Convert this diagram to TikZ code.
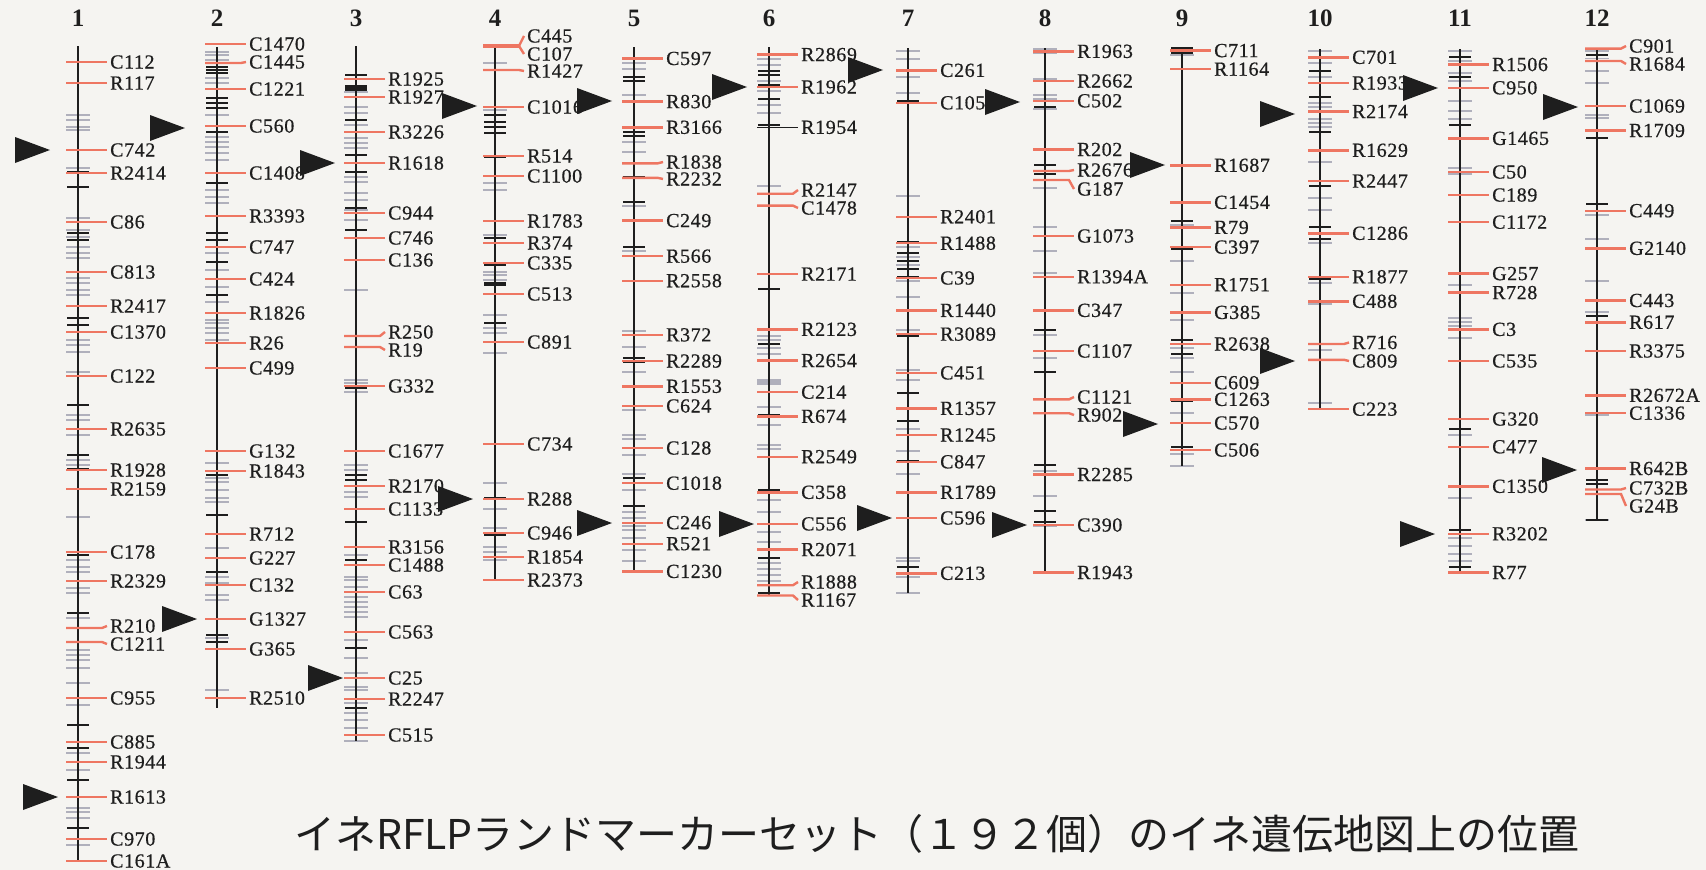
\documentclass[tikz,border=0pt]{standalone}
\usepackage{fontspec}
\setmainfont{Liberation Serif}
\newfontfamily\labfont{Liberation Serif}[FakeBold=0.6,LetterSpace=3]
\newfontfamily\jpfont{Noto Sans CJK JP}
\definecolor{bgc}{RGB}{245,244,241}
\definecolor{redt}{RGB}{238,118,98}
\definecolor{grayt}{RGB}{176,176,188}
\definecolor{blackt}{RGB}{30,30,30}
\tikzset{
  chrline/.style={line width=2pt, blackt},
  rt/.style={line width=2.4pt, redt},
  gt/.style={line width=1.6pt, grayt},
  bt/.style={line width=1.8pt, blackt},
  lab/.style={font=\labfont\fontsize{20}{20}\selectfont, inner sep=0pt, anchor=west, text=blackt},
  num/.style={font=\fontsize{25}{25}\selectfont\bfseries, inner sep=0pt, text=blackt},
}
% #1 number, #2 X, #3 top, #4 bottom, #5 gray ticks, #6 black ticks, #7 marker list tick/label/text
\newcommand\chromo[7]{%
  \coordinate (top#1) at (#2,#3);
  \coordinate (bot#1) at (#2,#4);
  \node[num] (num#1) at (#2,18) {#1};
  \foreach \y in {#5} \draw[gt] (#2-12,\y) -- (#2+12,\y);
  \draw[chrline] (top#1) -- (bot#1);
  \foreach \y in {#6} \draw[bt] (#2-11,\y) -- (#2+11,\y);
  \foreach \y/\ly/\t [count=\i] in {#7} {
    \node[lab] (m#1-\i) at (#2+32,\ly) {\t};
    \draw[rt] (#2-12,\y) -- (#2+24,\y) -- ([xshift=-3pt]m#1-\i.west);
  }
}
\newcommand\pointer[3]{%
  \coordinate (#1) at (#2,#3);
  \fill[blackt] (#1) -- ++(-35,-13) -- ++(0,26) -- cycle;
}
\begin{document}
\begin{tikzpicture}[x=1pt,y=-1pt]
\fill[bgc] (0,0) rectangle (1706,870);
\useasboundingbox (0,0) rectangle (1706,870);

\chromo{1}{78}{46}{861}
 {115,120,127,130,168,218,230,237,247,253,258,278,283,290,295,340,345,352,372,415,420,435,460,465,517,560,567,572,588,593,618,650,655,660,668,683,705,753,770,808,812,818,845}
 {150,172,187,233,240,272,318,325,405,455,469,555,613,725,748,780,828}
 {62/62/C112,83/83/R117,150/150/C742,173/173/R2414,222/222/C86,272/272/C813,306/306/R2417,332/332/C1370,376/376/C122,429/429/R2635,470/470/R1928,489/489/R2159,552/552/C178,581/581/R2329,628/626/R210,642/644/C1211,698/698/C955,742/742/C885,762/762/R1944,797/797/R1613,839/839/C970,861/861/C161A}

\chromo{2}{217}{47}{708}
 {52,55,60,78,83,115,137,142,147,153,160,190,197,203,253,270,287,302,320,323,328,333,340,463,478,482,490,498,502,548,577,583,595,600,638,690}
 {67,70,73,98,103,108,132,183,233,240,262,295,368,475,515,572,585,635,642}
 {44/44/C1470,63/62/C1445,89/89/C1221,126/126/C560,173/173/C1408,216/216/R3393,247/247/C747,279/279/C424,313/313/R1826,343/343/R26,368/368/C499,451/451/G132,471/471/R1843,534/534/R712,558/558/G227,585/585/C132,619/619/G1327,649/649/G365,698/698/R2510}

\chromo{3}{356}{46}{741}
 {92,107,113,125,138,143,148,177,182,193,200,210,220,290,380,383,392,465,470,492,497,555,577,580,587,597,602,607,612,617,640,658,673,687,690,703,713,720,728,741}
 {75,86,88,90,120,155,172,208,230,388,475,480,522,560,648,708}
 {79/79/R1925,97/97/R1927,132/132/R3226,163/163/R1618,213/213/C944,238/238/C746,260/260/C136,336/332/R250,347/350/R19,386/386/G332,451/451/C1677,486/486/R2170,509/509/C1133,547/547/R3156,565/565/C1488,592/592/C63,632/632/C563,678/678/C25,699/699/R2247,735/735/C515}

\chromo{4}{495}{46}{580}
 {63,110,183,190,235,272,275,280,315,328,333,353,483,509,528,547,552,560}
 {115,122,127,133,157,238,265,283,285,323,498,535}
 {46/36/C445,46/54/C107,70/71/R1427,107/107/C1016,156/156/R514,176/176/C1100,221/221/R1783,243/243/R374,263/263/C335,294/294/C513,342/342/C891,444/444/C734,499/499/R288,533/533/C946,557/557/R1854,580/580/R2373}
\draw[rt, line width=4pt] (495-12,46) -- (495+24,46);

\chromo{5}{634}{47}{571}
 {63,69,95,142,152,206,251,331,347,372,410,435,439,455,474,490,512,518,526,530,538,550,561}
 {77,81,132,136,177,202,247,358,362,478,506}
 {58.5/58.5/C597,101.6/101.6/R830,127.3/127.3/R3166,163.3/162/R1838,177.9/179/R2232,220.6/220.6/C249,256.2/256.2/R566,280.7/280.7/R2558,334.9/334.9/R372,361/361/R2289,386.3/386.3/R1553,406/406/C624,448/448/C128,483.2/483.2/C1018,522.7/522.7/C246,543.7/543.7/R521,571.4/571.4/C1230}

\chromo{6}{769}{47}{595}
 {59,65,81,91,105,113,186,336,340,348,354,380,382,384,407,425,445,449,500,512,532,542,563,569,575,581}
 {71,75,85,99,125,289,344,415,490,558,593}
 {54.6/54.6/R2869,87/87/R1962,193.7/190/R2147,205.6/208/C1478,274/274/R2171,329.4/329.4/R2123,360.6/360.6/R2654,392.2/392.2/C214,416.4/416.4/R674,456.7/456.7/R2549,492.3/492.3/C358,523.9/523.9/C556,549.6/549.6/R2071,585.2/582/R1888,595.5/600/R1167}
\node[lab] (m6-x) at (769+32,127.3) {R1954};
\draw[bt, line width=1.4pt] (769-12,127.3) -- ([xshift=-3pt]m6-x.west);

\chromo{7}{908}{48}{593}
 {51,59,77,93,196,247,257,265,281,297,330,370,380,429,451,474,558,561,577,593}
 {101,242,253,261,269,277,310,336,393,421,461,567}
 {70.4/70.4/C261,102.8/102.8/C105,216.7/216.7/R2401,243.2/243.2/R1488,278/278/C39,310.4/310.4/R1440,334.1/334.1/R3089,372.9/372.9/C451,408.4/408.4/R1357,435/435/R1245,461.8/461.8/C847,492.3/492.3/R1789,518/518/C596,573.3/573.3/C213}

\chromo{8}{1045}{48}{572.5}
 {49,53,79,95,99,109,188,227,251,273,277,335,358,471,496,526}
 {107,165,174,330,372,465,511,522}
 {51.4/51.4/R1963,81/81/R2662,100.8/100.8/C502,149.5/149.5/R202,171/170/R2676,180/189/G187,236/236/G1073,276.8/276.8/R1394A,310.4/310.4/C347,351/351/C1107,399.4/397/C1121,413.2/415/R902,474.5/474.5/R2285,525/525/C390,572.5/572.5/R1943}

\chromo{9}{1182}{48}{466}
 {55,225,261,293,320,348,358,372,413,454,466}
 {48,53,221,249,340,354,401,447}
 {50.6/50.6/C711,69.2/69.2/R1164,165.3/165.3/R1687,202.4/202.4/C1454,227.4/227.4/R79,247.1/247.1/C397,284.7/284.7/R1751,312.4/312.4/G385,344/344/R2638,382.7/382.7/C609,399.4/399.4/C1263,423/423/C570,450/450/C506}

\chromo{10}{1320}{49}{408.5}
 {51,63,77,103,107,119,123,127,162,198,210,243,283,304,350,403}
 {71,97,132,186,227,239,279}
 {57.3/57.3/C701,83/83/R1933,111.5/111.5/R2174,150.3/150.3/R1629,181/181/R2447,233.3/233.3/C1286,276.8/276.8/R1877,301.3/301.3/C488,344/342.5/R716,359.8/361/C809,409.2/409.2/C223}

\chromo{11}{1460}{49}{572.5}
 {51,61,73,81,101,111,119,168,174,285,318,322,326,338,435,498,538,546,554,561}
 {57,77,125,429,530,567}
 {64.5/64.5/R1506,87.8/87.8/C950,138.4/138.4/G1465,172/172/C50,195/195/C189,222.2/222.2/C1172,273.6/273.6/G257,292.6/292.6/R728,329.4/329.4/C3,361/361/C535,419/419/G320,446.8/446.8/C477,486.3/486.3/C1350,533.8/533.8/R3202,572.5/572.5/R77}

\chromo{12}{1597}{49}{520}
 {51,58.5,71,83,115,118,215,239,281,312,415,520}
 {55,138,204,316,480,484,520}
 {48.6/46/C901,61/64/R1684,106/106/C1069,130.5/130.5/R1709,210.7/210.7/C449,248.3/248.3/G2140,300.5/300.5/C443,322.3/322.3/R617,351/351/R3375,395.4/395.4/R2672A,413.2/413.2/C1336,468.5/468.5/R642B,489.5/488/C732B,494/506/G24B}

% pointers
\pointer{p1a}{50}{150}
\pointer{p1b}{58}{797}
\pointer{p2a}{185}{128}
\pointer{p2b}{197}{619}
\pointer{p3a}{335}{163}
\pointer{p3b}{343}{678}
\pointer{p4a}{477}{106}
\pointer{p4b}{473}{499}
\pointer{p5a}{612}{101}
\pointer{p5b}{612}{523}
\pointer{p6a}{747}{87}
\pointer{p6b}{754}{524}
\pointer{p7a}{883}{70}
\pointer{p7b}{892}{518}
\pointer{p8a}{1020}{102}
\pointer{p8b}{1027}{525}
\pointer{p9a}{1165}{165}
\pointer{p9b}{1158}{424}
\pointer{p10a}{1295}{114}
\pointer{p10b}{1295}{361}
\pointer{p11a}{1438}{88}
\pointer{p11b}{1435}{534}
\pointer{p12a}{1578}{107}
\pointer{p12b}{1577}{470}

\node[font=\jpfont\fontsize{41}{41}\selectfont, inner sep=0pt, text=blackt] (title) at (937,834) {イネRFLPランドマーカーセット（１９２個）のイネ遺伝地図上の位置};
\end{tikzpicture}
\end{document}
